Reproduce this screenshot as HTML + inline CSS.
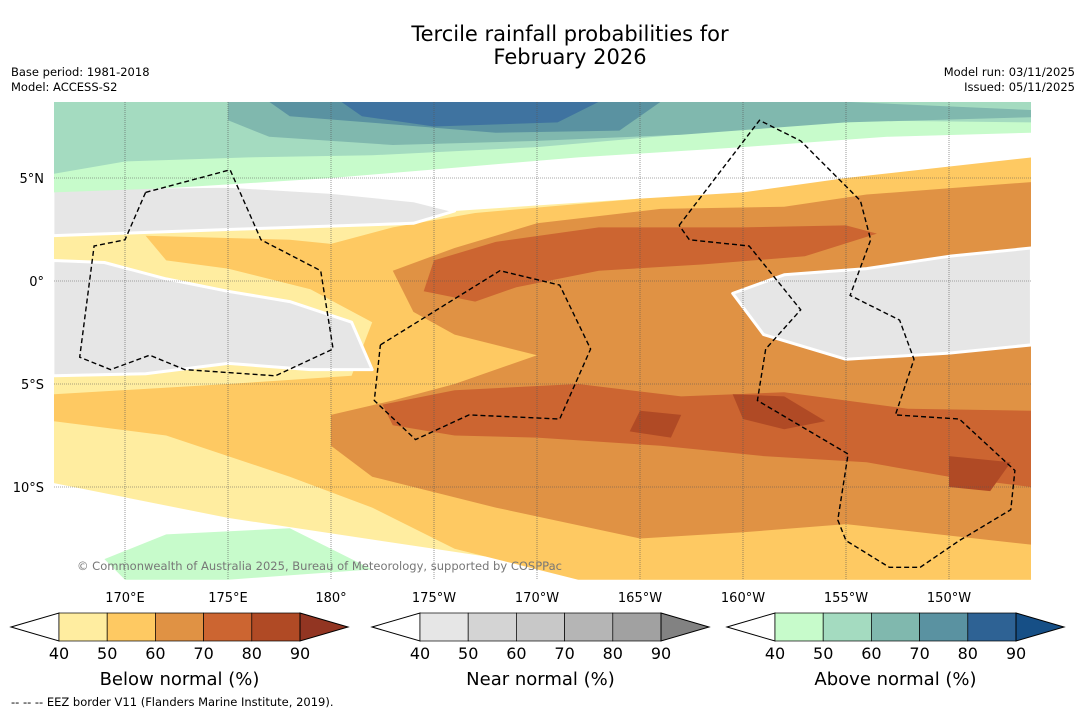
<!DOCTYPE html>
<html><head><meta charset="utf-8">
<style>
html,body{margin:0;padding:0;background:#fff;}
body{width:1085px;height:713px;overflow:hidden;font-family:"DejaVu Sans","Liberation Sans",sans-serif;}
svg text{font-family:"DejaVu Sans","Liberation Sans",sans-serif;}
</style></head>
<body>
<svg id="chart" width="1085" height="713" viewBox="0 0 1085 713" xmlns="http://www.w3.org/2000/svg">
<text x="570" y="41" font-size="21" text-anchor="middle">Tercile rainfall probabilities for</text>
<text x="570" y="64" font-size="21" text-anchor="middle">February 2026</text>
<text x="11" y="76" font-size="11.5">Base period: 1981-2018</text>
<text x="11" y="91" font-size="11.5">Model: ACCESS-S2</text>
<text x="1075" y="76" font-size="11.5" text-anchor="end">Model run: 03/11/2025</text>
<text x="1075" y="91" font-size="11.5" text-anchor="end">Issued: 05/11/2025</text>
<defs><clipPath id="mapclip"><rect x="54" y="102" width="977" height="478"/></clipPath></defs>
<g id="map" clip-path="url(#mapclip)"></g>
<g id="axes"></g>
<g id="cbars"></g>
<text x="11" y="706" font-size="11.5">--  --  -- EEZ border V11 (Flanders Marine Institute, 2019).</text>
</svg>
<script>
const lonTicks=[170,175,180,185,190,195,200,205,210];
const lonTickLabels=["170°E","175°E","180°","175°W","170°W","165°W","160°W","155°W","150°W"];
const latTicks=[5,0,-5,-10];
const latTickLabels=["5°N","0°","5°S","10°S"];
const cbTicks=[40,50,60,70,80,90];
const belowColors=["#ffeda0","#fec962","#e09244","#cc6531","#b04a25","#923522"];
const nearColors=["#e6e6e6","#d4d4d4","#c8c8c8","#b5b5b5","#a1a1a1","#828282"];
const aboveColors=["#c7fbcb","#a4dbc0","#80b8ae","#5a92a1","#2e6294","#164f86"];
const regYellow=[[166.5,2.5],[180,3],[195,4],[214,4.8],[214,-14.5],[195,-14.5],[185,-13],[175,-11.5],[166.5,-9.8]];
const regGrayTop=[[166.5,4.5],[175,4.6],[180,4.3],[184,3.9],[186,3.4],[184,2.8],[175,2.5],[166.5,2.2]];
const regGrayLeft=[[166.5,1],[169,0.9],[172,0.1],[175,-0.5],[178,-1],[181,-2],[182,-4.3],[179,-4.3],[175,-4],[171,-4.5],[166.5,-4.6]];
const regGrayRight=[[199.5,-0.6],[202,0.3],[206,0.6],[210,1.2],[214,1.6],[214,-3.1],[210,-3.5],[205,-3.8],[201,-2.6]];
const regOr50=[[171,2.2],[178,2],[180,1.8],[183,2.6],[187,3.3],[195,4],[200,4.3],[205,5],[214,6],[214,-14.5],[192,-14.5],[186,-13],[182,-11],[178,-9.5],[172,-7.5],[166.5,-6.8],[166.5,-5.5],[175,-5],[181,-4.6],[182,-2],[179,-0.4],[175,0.6],[172,1]];
const regOr60=[[183,0.5],[186,1.6],[190,2.8],[196,3.5],[202,3.6],[206,4.2],[210,4.5],[214,4.8],[214,-12.8],[205,-11.8],[200,-12.2],[195,-12.5],[188,-11],[182,-9.5],[180,-8],[180,-6.5],[183,-5.8],[186,-5],[190,-3.6],[186,-2.6],[184,-1.5]];
const regOr70a=[[184.5,-0.5],[185,1],[188,1.9],[193,2.6],[200,2.6],[205,2.7],[206.5,2.3],[203,1.2],[198,0.8],[193,0.5],[189,-0.3],[187,-1]];
const regOr70b=[[182.5,-6],[186,-5.3],[192,-5],[197,-5.6],[202,-5.4],[208,-6.2],[214,-6.3],[214,-10],[210,-9.5],[206,-8.8],[201,-8.5],[196,-8],[190,-7.6],[186,-7.5],[183,-7]];
const regOr80a=[[195,-6.3],[197,-6.5],[196.5,-7.6],[194.5,-7.3]];
const regOr80b=[[199.5,-5.5],[202,-5.6],[204,-6.8],[202,-7.2],[200,-6.7]];
const regOr80c=[[210,-8.5],[213,-8.8],[212,-10.2],[210,-10]];
const regGreenTop=[[166.5,8.7],[214,8.7],[214,7.2],[207,7],[200,6.5],[192,6],[186,5.5],[180,5],[172,4.5],[166.5,4.3]];
const regTealTop=[[166.5,8.7],[200,8.7],[214,8.7],[214,7.7],[205,7.8],[198,7.2],[190,6.5],[182,6.1],[176,6],[170,5.8],[166.5,5.2]];
const regTeal2=[[175,8.7],[205,8.7],[214,8.3],[214,7.95],[205,7.7],[197,7.1],[190,6.8],[183,6.6],[177,7],[175,7.8]];
const regTeal3=[[177,8.7],[196,8.7],[194,7.3],[188,7.2],[183,7.6],[178,8]];
const regBlue=[[180.5,8.7],[193,8.7],[191,7.7],[185,7.5],[181.5,8]];
const regGreenBot=[[169,-13.5],[172,-12.3],[178,-12],[182,-14],[175,-14.5],[170,-14.5]];
const eezGilbert=[[171,4.3],[175.1,5.4],[176.6,2],[179.5,0.5],[180.1,-3.3],[177.3,-4.6],[172.9,-4.3],[171.2,-3.6],[169.3,-4.3],[167.8,-3.7],[168.5,1.7],[170,2],[171,4.3]];
const eezPhoenix=[[182.4,-3.1],[188.2,0.5],[191.1,-0.2],[192.6,-3.3],[191.1,-6.7],[186.7,-6.5],[184.1,-7.7],[182.1,-5.8],[182.4,-3.1]];
const eezLine=[[196.9,2.7],[200.8,7.8],[202.8,6.8],[205.7,3.9],[206.2,2],[205.2,-0.7],[207.6,-1.9],[208.3,-3.8],[207.4,-6.5],[210.5,-6.7],[213.2,-9.2],[213,-11.1],[210.5,-12.6],[208.6,-13.9],[207.1,-13.9],[205,-12.6],[204.6,-11.6],[205.1,-8.4],[200.7,-5.8],[201.1,-3.3],[202.8,-1.4],[200.3,1.7],[197.4,2],[196.9,2.7]];

const X=lon=>125+(lon-170)*20.6;
const Y=lat=>281-lat*20.6;
const NS="http://www.w3.org/2000/svg";
function mk(tag,parent){const e=document.createElementNS(NS,tag);parent.appendChild(e);return e;}
const map=document.getElementById('map');
const bg=mk('rect',map);


bg.setAttribute('x',54);bg.setAttribute('y',102);bg.setAttribute('width',977);bg.setAttribute('height',478);bg.setAttribute('fill','#fff');
function poly(pts,fill,name,stroke){
 const p=mk('polygon',map);
 
 
 p.setAttribute('points',pts.map(q=>X(q[0]).toFixed(1)+','+Y(q[1]).toFixed(1)).join(' '));
 p.setAttribute('fill',fill);
 if(stroke){p.setAttribute('stroke',stroke);p.setAttribute('stroke-width',3);p.setAttribute('stroke-linejoin','round');}
}
poly(regYellow,belowColors[0],'below-40-region');
poly(regOr50,belowColors[1],'below-50-region');
poly(regOr60,belowColors[2],'below-60-region');
poly(regOr70a,belowColors[3],'below-70-north-region');
poly(regOr70b,belowColors[3],'below-70-south-region');
poly(regOr80a,belowColors[4],'below-80-blob-a');
poly(regOr80b,belowColors[4],'below-80-blob-b');
poly(regOr80c,belowColors[4],'below-80-blob-c');
poly(regGrayTop,nearColors[0],'near-40-north-region','#fff');
poly(regGrayLeft,nearColors[0],'near-40-west-region','#fff');
poly(regGrayRight,nearColors[0],'near-40-east-region','#fff');
poly(regGreenTop,aboveColors[0],'above-40-region');
poly(regTealTop,aboveColors[1],'above-50-region');
poly(regTeal2,aboveColors[2],'above-60-region');
poly(regTeal3,aboveColors[3],'above-70-region');
poly(regBlue,"#3f73a0",'above-80-region');
poly(regGreenBot,aboveColors[0],'above-40-south-region');
lonTicks.forEach((lon,i)=>{
 const l=mk('line',map);
 
 
 l.setAttribute('x1',X(lon));l.setAttribute('x2',X(lon));l.setAttribute('y1',102);l.setAttribute('y2',580);
 l.setAttribute('stroke','#555');l.setAttribute('stroke-width',0.6);l.setAttribute('stroke-dasharray','1 1');
});
latTicks.forEach((lat,i)=>{
 const l=mk('line',map);
 
 
 l.setAttribute('y1',Y(lat));l.setAttribute('y2',Y(lat));l.setAttribute('x1',54);l.setAttribute('x2',1031);
 l.setAttribute('stroke','#555');l.setAttribute('stroke-width',0.6);l.setAttribute('stroke-dasharray','1 1');
});
function eez(pts,name){
 const p=mk('polyline',map);
 
 
 p.setAttribute('points',pts.map(q=>X(q[0]).toFixed(1)+','+Y(q[1]).toFixed(1)).join(' '));
 p.setAttribute('fill','none');p.setAttribute('stroke','#000');p.setAttribute('stroke-width',1.4);p.setAttribute('stroke-dasharray','5 3');
}
eez(eezGilbert,'eez-gilbert-islands');
eez(eezPhoenix,'eez-phoenix-islands');
eez(eezLine,'eez-line-islands');
const cp=mk('text',map);


cp.setAttribute('x',77);cp.setAttribute('y',570);cp.setAttribute('font-size',11.5);cp.setAttribute('fill','#777');
cp.setAttribute('textLength',485);
cp.textContent='© Commonwealth of Australia 2025, Bureau of Meteorology, supported by COSPPac';
const axes=document.getElementById('axes');
lonTicks.forEach((lon,i)=>{
 const t=mk('text',axes);
 
 
 t.setAttribute('x',X(lon));t.setAttribute('y',602);t.setAttribute('font-size',13);t.setAttribute('text-anchor','middle');
 t.textContent=lonTickLabels[i];
});
latTicks.forEach((lat,i)=>{
 const t=mk('text',axes);
 
 
 t.setAttribute('x',44);t.setAttribute('y',Y(lat)+5);t.setAttribute('font-size',13);t.setAttribute('text-anchor','end');
 t.textContent=latTickLabels[i];
});
const cb=document.getElementById('cbars');
function colorbar(x0,cols,title,name){
 const g=mk('g',cb);
 
 
 const y0=613,y1=641,ym=627,tw=48,bw=48.2;
 const bx=x0+tw;
 const lt=mk('polygon',g);
 
 
 lt.setAttribute('points',`${x0},${ym} ${bx},${y0} ${bx},${y1}`);lt.setAttribute('fill','#fff');lt.setAttribute('stroke','#000');
 for(let i=0;i<5;i++){
  const r=mk('rect',g);
  
  
  r.setAttribute('x',bx+i*bw);r.setAttribute('y',y0);r.setAttribute('width',bw);r.setAttribute('height',y1-y0);
  r.setAttribute('fill',cols[i]);r.setAttribute('stroke','#000');r.setAttribute('stroke-width',0.7);
 }
 const ex=bx+5*bw;
 const rt=mk('polygon',g);
 
 
 rt.setAttribute('points',`${ex},${y0} ${ex+tw},${ym} ${ex},${y1}`);rt.setAttribute('fill',cols[5]);rt.setAttribute('stroke','#000');
 cbTicks.forEach((v,i)=>{
  const t=mk('text',g);
  
  
  t.setAttribute('x',bx+i*bw);t.setAttribute('y',659);t.setAttribute('font-size',16);t.setAttribute('text-anchor','middle');
  t.textContent=v;
 });
 const tt=mk('text',g);
 
 
 tt.setAttribute('x',bx+2.5*bw);tt.setAttribute('y',685);tt.setAttribute('font-size',18);tt.setAttribute('text-anchor','middle');
 tt.textContent=title;
}
colorbar(11,belowColors,'Below normal (%)','below-normal-colorbar');
colorbar(372,nearColors,'Near normal (%)','near-normal-colorbar');
colorbar(727,aboveColors,'Above normal (%)','above-normal-colorbar');
</script>
</body></html>
